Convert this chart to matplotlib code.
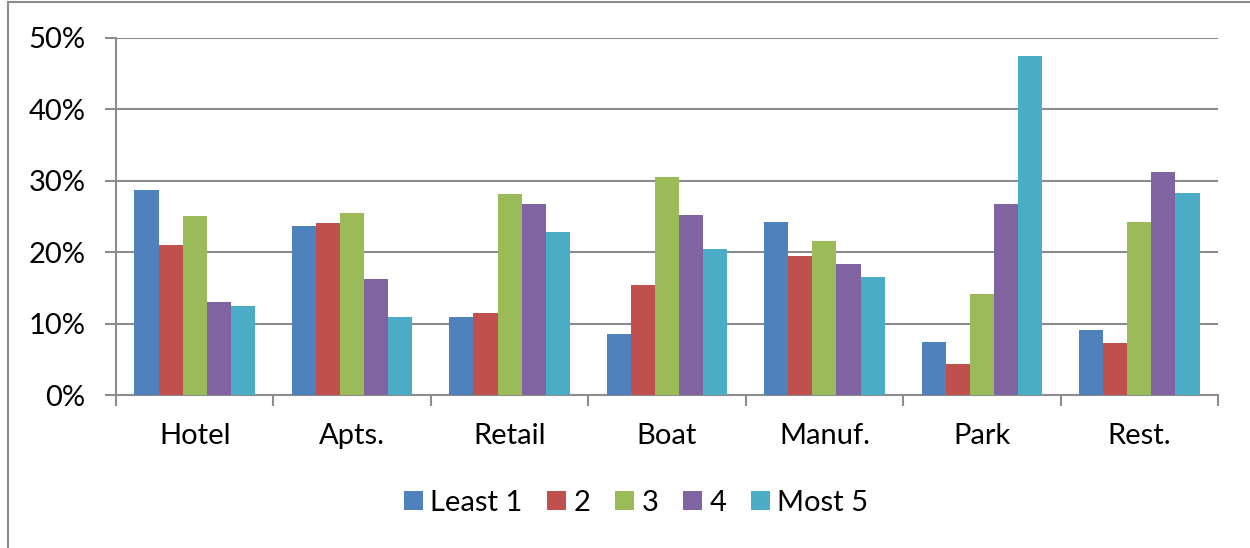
import numpy as np
import matplotlib.pyplot as plt
from matplotlib.patches import Rectangle

plt.rcParams['font.family'] = ['Lato', 'DejaVu Sans']

# Data
categories = ['Hotel', 'Apts.', 'Retail', 'Boat', 'Manuf.', 'Park', 'Rest.']
series_names = ['Least 1', '2', '3', '4', 'Most 5']
least1 = [28.7, 23.7, 10.9, 8.5, 24.2, 7.4, 9.1]
s2 = [21.0, 24.1, 11.5, 15.4, 19.5, 4.3, 7.3]
s3 = [25.1, 25.5, 28.2, 30.5, 21.6, 14.1, 24.2]
s4 = [13.0, 16.2, 26.8, 25.2, 18.3, 26.8, 31.2]
most5 = [12.5, 10.9, 22.8, 20.4, 16.5, 47.5, 28.3]
colors = ['#4F81BD', '#C0504D', '#9BBB59', '#8064A2', '#4BACC6']
y_ticks = [0, 10, 20, 30, 40, 50]

series = [least1, s2, s3, s4, most5]
grid_col = '#8C8C8C'
fs = 21

fig = plt.figure(figsize=(12.5, 5.48), dpi=100)
ax = fig.add_axes([116 / 1250, 1 - 395 / 548, (1218 - 116) / 1250, (395 - 38) / 548])

# outer chart border (cut off at right/bottom edges)
fig.patches.append(Rectangle((8 / 1250, -0.1), 1.2, 1 - 2 / 548 + 0.1,
                             transform=fig.transFigure, fill=False,
                             edgecolor=grid_col, linewidth=1.5))

x = np.arange(len(categories))
width = 0.153
for i, (vals, name, c) in enumerate(zip(series, series_names, colors)):
    ax.bar(x + (i - 2) * width, vals, width, color=c, label=name, zorder=3)

ax.set_xlim(-0.5, len(categories) - 0.5)
ax.set_ylim(0, 50)
ax.set_yticks(y_ticks)
ax.set_yticklabels([f'{v}%' for v in y_ticks])
ax.yaxis.grid(True, color=grid_col, linewidth=1.5, zorder=0)

ax.set_xticks(x)
ax.set_xticklabels(categories)
ax.set_xticks(np.arange(len(categories) + 1) - 0.5, minor=True)
ax.tick_params(axis='x', which='major', length=0, pad=20, labelsize=fs)
ax.tick_params(axis='x', which='minor', length=8, width=1.5, color=grid_col, direction='out')
ax.tick_params(axis='y', length=8, width=1.5, color=grid_col, direction='out', pad=14, labelsize=fs)

for side in ['top', 'right']:
    ax.spines[side].set_visible(False)
for side in ['left', 'bottom']:
    ax.spines[side].set_color(grid_col)
    ax.spines[side].set_linewidth(1.5)

fig.legend(loc='center', bbox_to_anchor=(636 / 1250, 1 - 503 / 548), ncol=5,
           frameon=False, fontsize=fs, handlelength=0.65, handleheight=0.65,
           handletextpad=0.25, columnspacing=0.85)

fig.savefig('out.png', dpi=100)
